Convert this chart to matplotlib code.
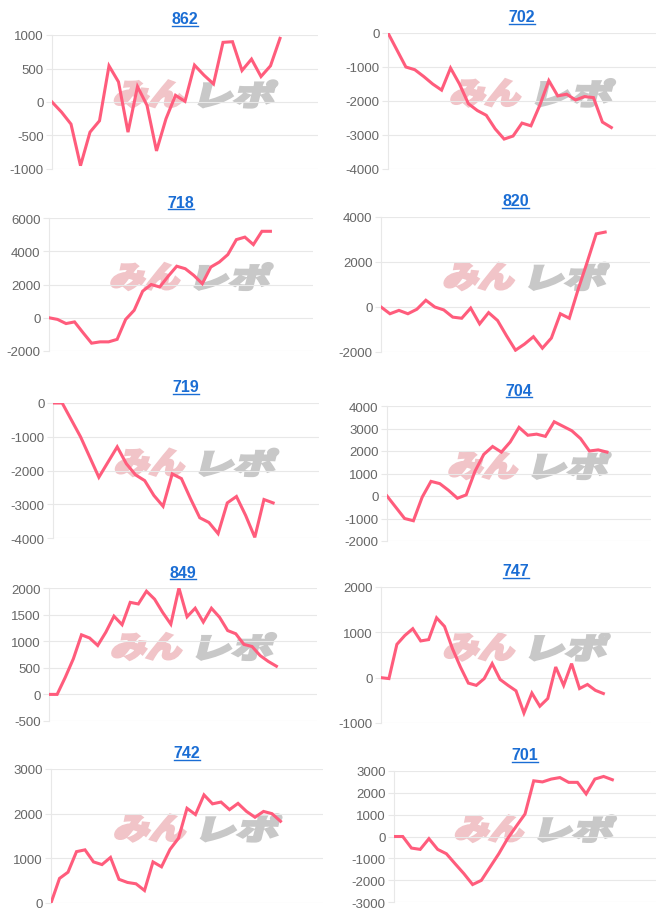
import matplotlib
matplotlib.use("Agg")
from matplotlib import pyplot
from matplotlib.font_manager import FontProperties
from matplotlib.textpath import TextPath
from matplotlib.patches import PathPatch
from matplotlib.lines import Line2D
from matplotlib.transforms import Affine2D, IdentityTransform

pyplot.rcParams['font.family'] = ['Liberation Sans', 'DejaVu Sans']
pyplot.rcParams['axes.unicode_minus'] = False

################################### Data ######################################
titles = ['862', '702', '718', '820', '719', '704', '849', '747', '742', '701']

s862 = [0, -150, -330, -950, -450, -280, 540, 300, -450, 230, -50, -730, -250,
        100, 10, 550, 400, 270, 890, 900, 470, 640, 380, 540, 950]
s702 = [0, -500, -1000, -1080, -1280, -1500, -1680, -1030, -1500, -2080, -2280,
        -2420, -2820, -3120, -3030, -2650, -2730, -2120, -1400, -1850, -1800,
        -1970, -1870, -1900, -2620, -2780]
s718 = [0, -100, -350, -250, -900, -1530, -1450, -1450, -1300, -100, 450, 1600,
        2000, 1850, 2500, 3100, 2950, 2550, 2050, 3050, 3350, 3800, 4700, 4850,
        4400, 5200, 5200]
s820 = [0, -300, -150, -300, -100, 300, 0, -130, -450, -500, -50, -750, -250,
        -600, -1280, -1920, -1650, -1320, -1830, -1380, -300, -500, 800, 2000,
        3250, 3330]
s719 = [0, 0, -500, -1000, -1600, -2200, -1750, -1300, -1800, -2130, -2300,
        -2740, -3060, -2100, -2240, -2840, -3400, -3540, -3870, -2960, -2770,
        -3330, -3980, -2860, -2960]
s704 = [0, -500, -1000, -1100, -50, 650, 550, 250, -100, 50, 1100, 1850, 2200,
        1950, 2400, 3050, 2700, 2750, 2650, 3300, 3100, 2900, 2550, 2000, 2050,
        1950]
s849 = [0, 0, 320, 670, 1120, 1060, 920, 1170, 1470, 1310, 1730, 1700, 1940,
        1790, 1540, 1320, 2000, 1460, 1620, 1360, 1620, 1450, 1200, 1140, 940,
        900, 730, 620, 530]
s747 = [0, -20, 735, 930, 1080, 810, 840, 1320, 1130, 640, 235, -120, -170, -20,
        310, -40, -170, -290, -780, -340, -630, -460, 235, -170, 310, -240, -150,
        -280, -350]
s742 = [0, 550, 690, 1150, 1190, 920, 860, 1020, 530, 460, 430, 280, 920, 810,
        1200, 1450, 2120, 1980, 2420, 2220, 2260, 2090, 2230, 2050, 1920, 2050,
        2000, 1830]
s701 = [0, 0, -530, -590, -100, -590, -790, -1250, -1700, -2200, -2010, -1400,
        -790, -100, 470, 1030, 2550, 2500, 2630, 2700, 2480, 2480, 1950, 2630,
        2750, 2600]

series = [s862, s702, s718, s820, s719, s704, s849, s747, s742, s701]

# number of x-axis slots (labels are hidden)
x_slots = [29, 31, 32, 31, 30, 31, 34, 35, 33, 31]

y_min = [-1000, -4000, -2000, -2000, -4000, -2000, -500, -1000, 0, -3000]
y_max = [1000, 0, 6000, 4000, 0, 4000, 2000, 2000, 3000, 3000]
y_step = [500, 1000, 2000, 2000, 1000, 1000, 500, 1000, 1000, 1000]

################################## Layout #####################################
W, H = 666, 920
# plot areas in pixels: left, top, right, bottom
boxes = [(52, 36, 318, 170), (388, 34, 656, 170),
         (49, 219, 313, 352), (381, 218, 650, 353),
         (53, 404, 319, 539), (387, 407, 651, 542),
         (49, 589, 317, 722), (381, 588, 651, 724),
         (51, 770, 323, 904), (394, 772, 656, 903)]

LINE = '#ff5c7c'
GRID = '#e8e8e8'
TICK = '#666666'
TITLE = '#1a6dd4'

jp = FontProperties(family='Noto Sans CJK JP', weight='black')


def glyphs(text, x0, y0, width, height, color):
    path = TextPath((0, 0), text, size=1, prop=jp)
    ext = path.get_extents()
    # leave room for the slant inside the requested width
    slant = 0.25 * height
    trf = (Affine2D().translate(-ext.x0, -ext.y0)
           .scale((width - slant) / ext.width, height / ext.height)
           .skew_deg(14, 0).translate(x0, y0))
    patch = PathPatch(trf.transform_path(path), facecolor=color,
                      edgecolor=color, linewidth=1.8,
                      transform=IdentityTransform(), zorder=0.2)
    patch.set_clip_on(False)
    return patch


def watermark(ax, box):
    left, top, right, bottom = box
    w = right - left
    h = bottom - top
    y0 = H - top - 0.54 * h
    hh = 0.2 * h
    ax.add_artist(glyphs('みん', left + 0.23 * w, y0, 0.28 * w, hh, '#f1c4c8'))
    ax.add_artist(glyphs('レポ', left + 0.55 * w, y0, 0.30 * w, hh, '#c8c8c8'))


def panel(fig, i):
    left, top, right, bottom = boxes[i]
    ax = fig.add_axes([left / W, 1 - bottom / H,
                       (right - left) / W, (bottom - top) / H])
    ax.set_facecolor('none')
    vals = series[i]
    ax.plot(range(len(vals)), vals, color=LINE, linewidth=2.2,
            solid_joinstyle='miter', zorder=3)
    ax.set_xlim(0, x_slots[i] - 1)
    ax.set_ylim(y_min[i], y_max[i])
    ax.set_yticks(range(y_min[i], y_max[i] + 1, y_step[i]))
    ax.set_xticks([])
    ax.set_axisbelow(True)
    ax.grid(axis='y', color=GRID, linewidth=0.8)
    for side in ['top', 'right', 'bottom']:
        ax.spines[side].set_visible(False)
    ax.spines['left'].set_color(GRID)
    ax.spines['left'].set_linewidth(0.8)
    ax.tick_params(axis='y', length=4, width=0.8, color=GRID,
                   labelcolor=TICK, labelsize=9.5, pad=2)
    watermark(ax, boxes[i])

    cx = (left + right) / 2 / W
    t = fig.text(cx, 1 - (top - 16) / H, titles[i], color=TITLE,
                 fontsize=11.5, fontweight='bold', ha='center', va='center')
    return t


#################################### Main #####################################

def main():
    fig = pyplot.figure(figsize=(W / 100, H / 100), dpi=100)
    fig.patch.set_facecolor('white')
    texts = [panel(fig, i) for i in range(len(series))]

    renderer = fig.canvas.get_renderer()
    for t in texts:
        bb = t.get_window_extent(renderer)
        y = bb.y0 + 1
        fig.add_artist(Line2D([bb.x0, bb.x1], [y, y], color=TITLE,
                              linewidth=1.0, transform=IdentityTransform()))

    fig.savefig('out.png', dpi=100)


if __name__ == '__main__':
    main()
